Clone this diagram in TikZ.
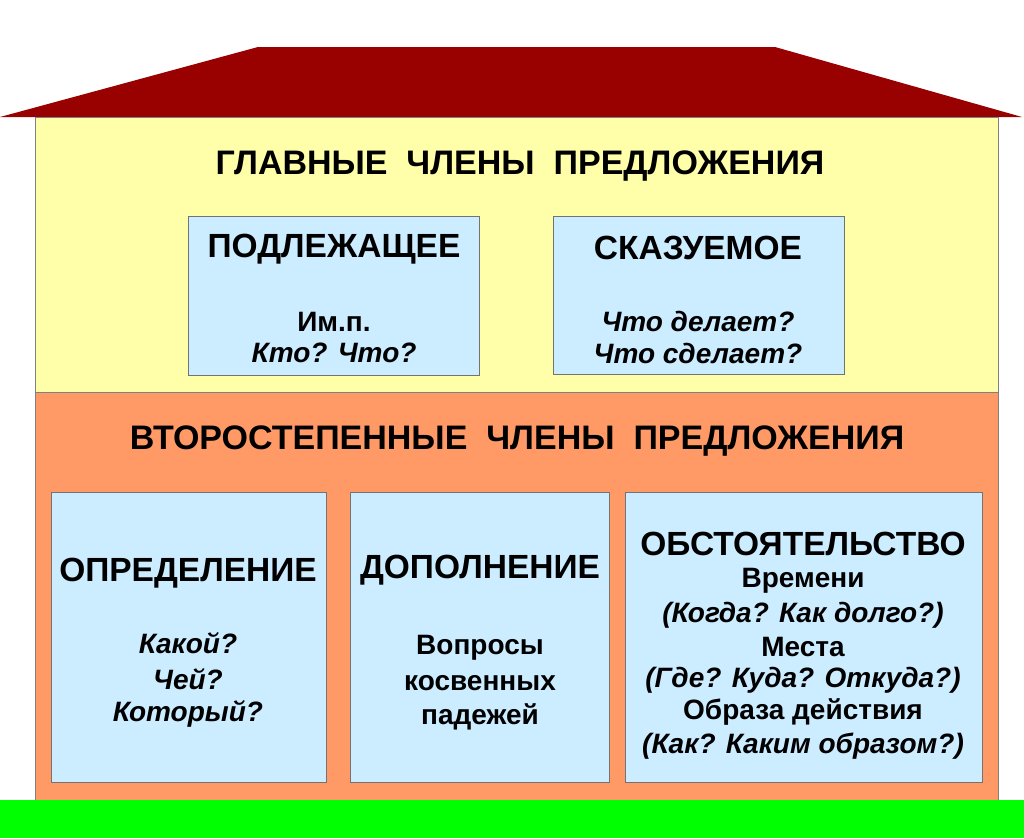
\documentclass[tikz,border=0pt]{standalone}
\usepackage{fontspec}
\setmainfont{Liberation Sans}
\begin{document}
\begin{tikzpicture}[x=1pt,y=-1pt,
 box/.style={draw=black!55,line width=1pt,fill=blueA},
 head/.style={font=\fontsize{34}{38}\selectfont\bfseries},
 btitle/.style={font=\fontsize{33.5}{38}\selectfont\bfseries},
 body/.style={font=\fontsize{28}{32}\selectfont\bfseries},
 ibody/.style={font=\fontsize{28}{32}\selectfont\bfseries\itshape}]
\definecolor{blueA}{RGB}{204,236,255}
\definecolor{roofc}{RGB}{153,0,0}
\definecolor{yel}{RGB}{255,255,170}
\definecolor{ora}{RGB}{255,153,102}
\useasboundingbox (0,0) rectangle (1024,838);
\fill[white] (0,0) rectangle (1024,838);
\fill[roofc] (0,117) -- (258,47) -- (775,47) -- (1022,117) -- cycle;
\draw[fill=yel,draw=black!50] (35,117) rectangle (998,392);
\draw[fill=ora,draw=black!50] (35,392) rectangle (998,800);
\fill[green] (0,800) rectangle (1024,838);
\node[head] (h1) at (520,166) {ГЛАВНЫЕ\ \ ЧЛЕНЫ\ \ ПРЕДЛОЖЕНИЯ};
\node[head] (h2) at (517,441) {ВТОРОСТЕПЕННЫЕ\ \ ЧЛЕНЫ\ \ ПРЕДЛОЖЕНИЯ};
\draw[box] (188,216) rectangle (479,375);
\draw[box] (553,216) rectangle (844,374);
\draw[box] (51,492) rectangle (326,782);
\draw[box] (350,492) rectangle (609,782);
\draw[box] (625,492) rectangle (982,782);
\node[btitle] (t1) at (334,249) {ПОДЛЕЖАЩЕЕ};
\node[body] (a1) at (334,322) {Им.п.};
\node[ibody] (a2) at (334,353) {Кто? Что?};
\node[btitle] (t2) at (698,248) {СКАЗУЕМОЕ};
\node[ibody] (b1) at (698,321) {Что делает?};
\node[ibody] (b2) at (698,353) {Что сделает?};
\node[btitle] (t3) at (188,573) {ОПРЕДЕЛЕНИЕ};
\node[ibody] (c1) at (188,643) {Какой?};
\node[ibody] (c2) at (188,679) {Чей?};
\node[ibody] (c3) at (188,714) {Который?};
\node[btitle] (t4) at (480,570) {ДОПОЛНЕНИЕ};
\node[body] (d1) at (480,648) {Вопросы};
\node[body] (d2) at (480,683) {косвенных};
\node[body] (d3) at (480,717) {падежей};
\node[btitle] (t5) at (803,544) {ОБСТОЯТЕЛЬСТВО};
\node[body] (e1) at (803,581) {Времени};
\node[ibody] (e2) at (803,615) {(Когда? Как долго?)};
\node[body] (e3) at (803,647) {Места};
\node[ibody] (e4) at (803,680) {(Где? Куда? Откуда?)};
\node[body] (e5) at (803,712) {Образа действия};
\node[ibody] (e6) at (803,746) {(Как? Каким образом?)};
\end{tikzpicture}
\end{document}
